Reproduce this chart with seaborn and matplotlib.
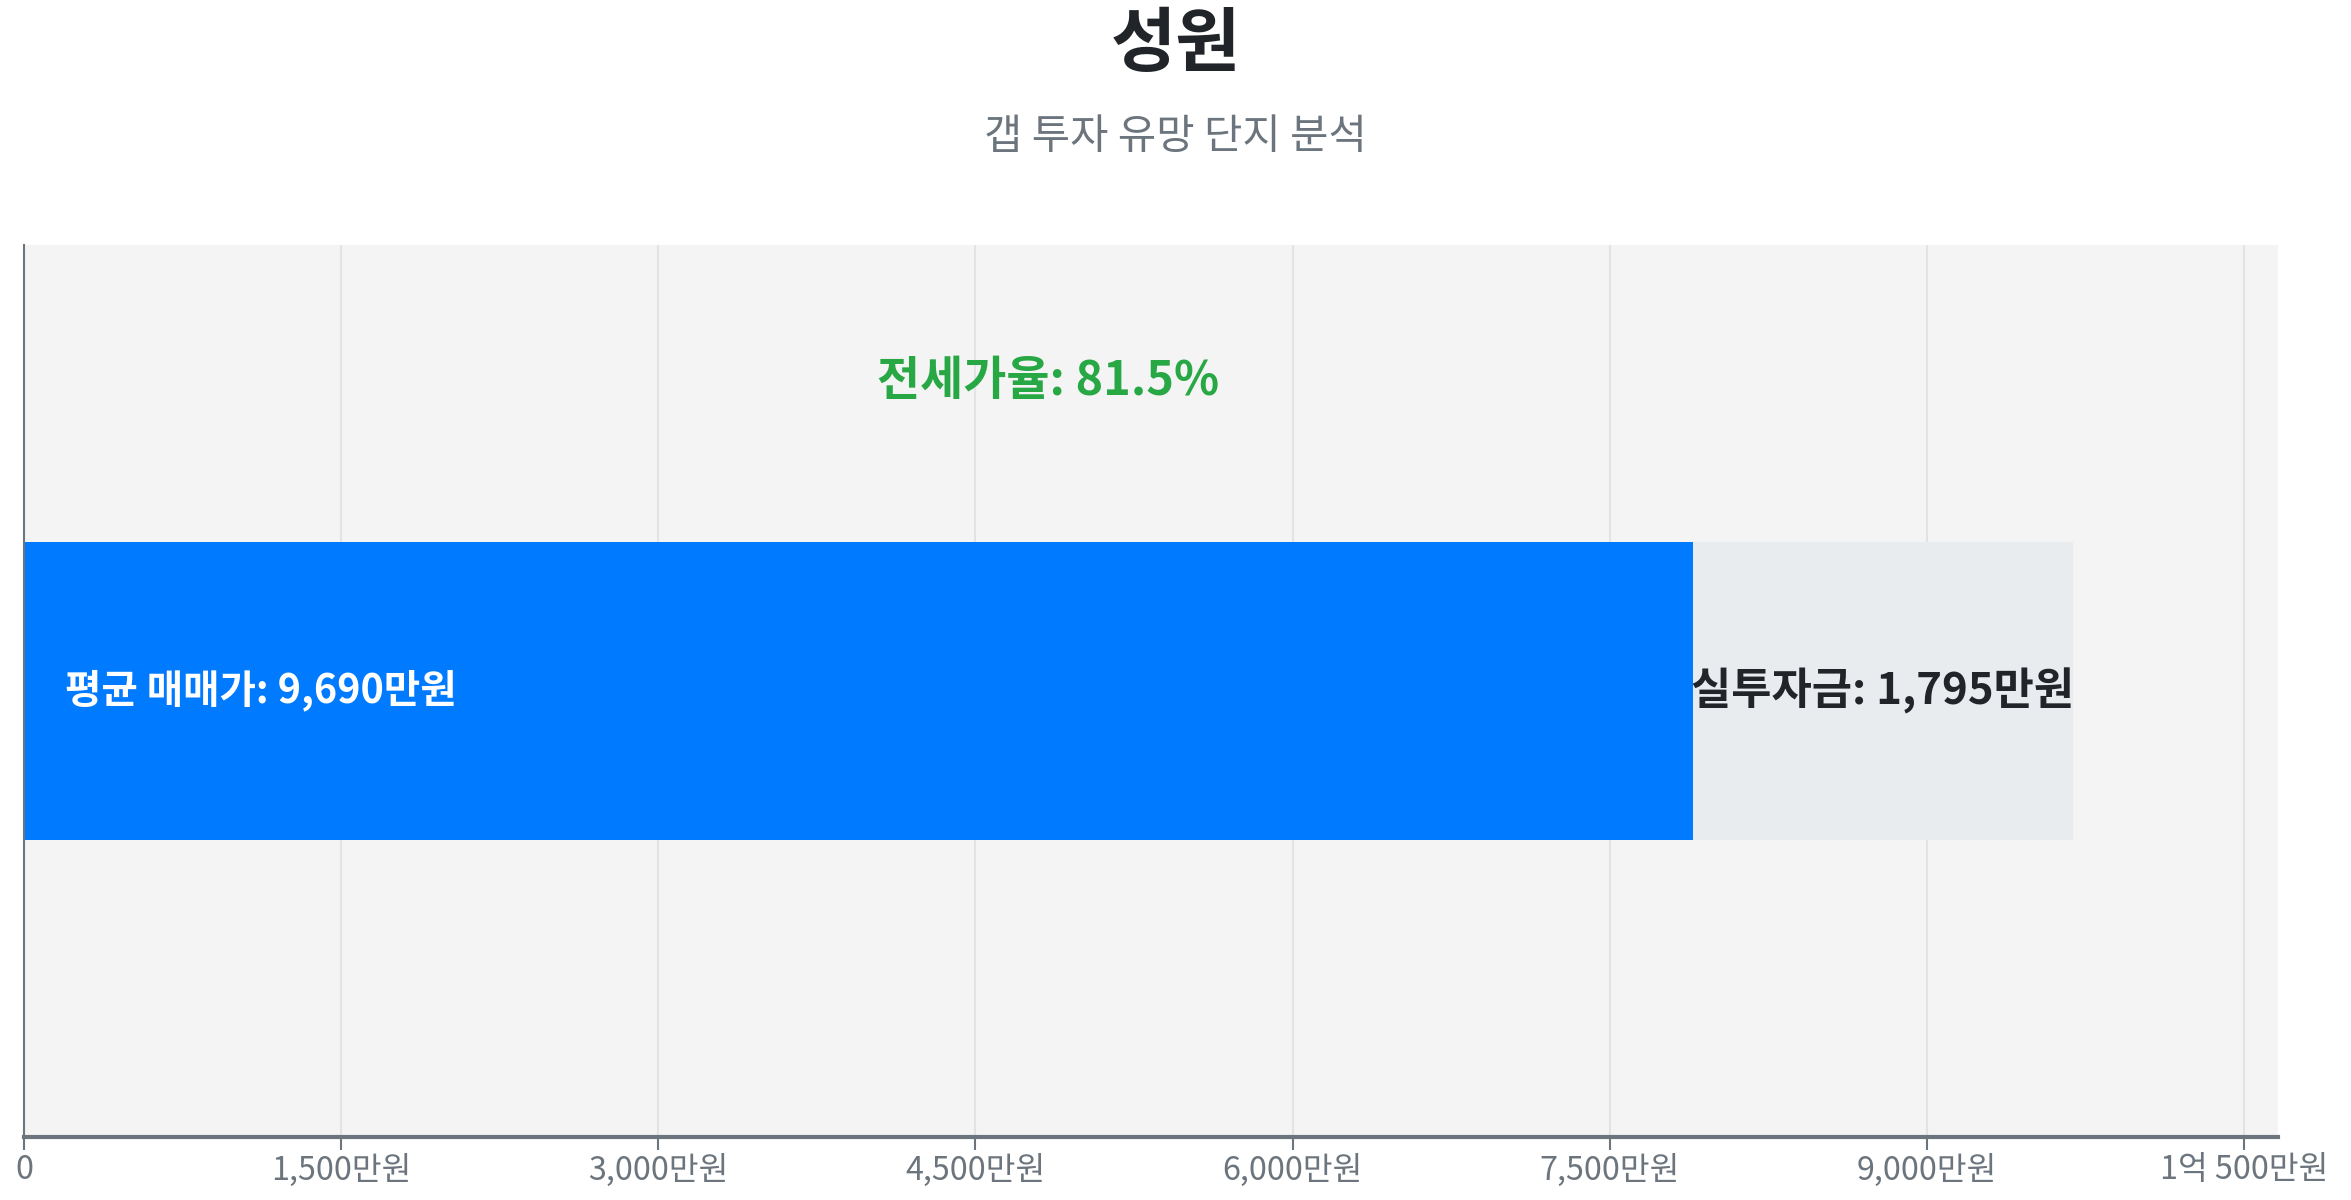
import matplotlib
matplotlib.use("Agg")
import matplotlib.pyplot as plt
import seaborn as sns
from matplotlib.ticker import FuncFormatter, MultipleLocator

# data (단위: 만원)
complex_name = ["성원"]
avg_price = [9690]
jeonse_price = [7895]
gap_invest = [avg_price[0] - jeonse_price[0]]
jeonse_ratio = [81.5]

sns.set_style("white")
plt.rcParams['font.family'] = ['Noto Sans CJK KR', 'DejaVu Sans']

fig = plt.figure(figsize=(2351 / 150, 1200 / 150), dpi=150)
ax = fig.add_axes([16 / 1568, 1 - 758 / 800, (1519 - 16) / 1568, (758 - 163) / 800])
ax.set_facecolor('#f4f4f4')

# 전체 매매가(회색) 위에 전세가(파란색) 겹치기
sns.barplot(x=avg_price, y=complex_name, orient='h', color='#e9ecef',
            width=1.0, saturation=1, linewidth=0, ax=ax)
sns.barplot(x=jeonse_price, y=complex_name, orient='h', color='#007bff',
            width=1.0, saturation=1, linewidth=0, ax=ax)

ax.set_xlim(0, avg_price[0] * 1.1)
ax.set_ylim(1.5, -1.5)
ax.set_yticks([])
ax.set_xlabel('')
ax.set_ylabel('')


def fmt_man(v, pos):
    v = int(round(v))
    if v == 0:
        return '0'
    if v >= 10000:
        return f"{v // 10000}억 {v % 10000:,}만원"
    return f"{v:,}만원"


ax.xaxis.set_major_locator(MultipleLocator(1500))
ax.xaxis.set_major_formatter(FuncFormatter(fmt_man))
ax.tick_params(axis='x', colors='#6c757d', labelsize=15.5, length=6, width=1,
               pad=2, bottom=True)
ax.grid(axis='x', color='#e3e3e3', linewidth=1)
ax.set_axisbelow(True)

for s in ['top', 'right']:
    ax.spines[s].set_visible(False)
ax.spines['left'].set_color('#6c757d')
ax.spines['left'].set_linewidth(1)
ax.spines['bottom'].set_color('#6c757d')
ax.spines['bottom'].set_linewidth(2)

# labels
ax.text(avg_price[0] * 0.02, 0, f"평균 매매가: {avg_price[0]:,}만원",
        color='white', fontsize=19, fontweight='bold', ha='left', va='center')
ax.text(jeonse_price[0] + gap_invest[0] / 2, 0, f"실투자금: {gap_invest[0]:,}만원",
        color='#212529', fontsize=21, fontweight='bold', ha='center', va='center')
ax.text(avg_price[0] / 2, -1.04, f"전세가율: {jeonse_ratio[0]}%",
        color='#28a745', fontsize=22.5, fontweight='bold', ha='center', va='center')

fig.text(0.5, 1 - 30 / 800, complex_name[0], ha='center', va='center',
         fontsize=34, fontweight='bold', color='#212529')
fig.text(0.5, 1 - 92 / 800, "갭 투자 유망 단지 분석", ha='center', va='center',
         fontsize=20, color='#6c757d')

fig.savefig('out.png', dpi=150)
